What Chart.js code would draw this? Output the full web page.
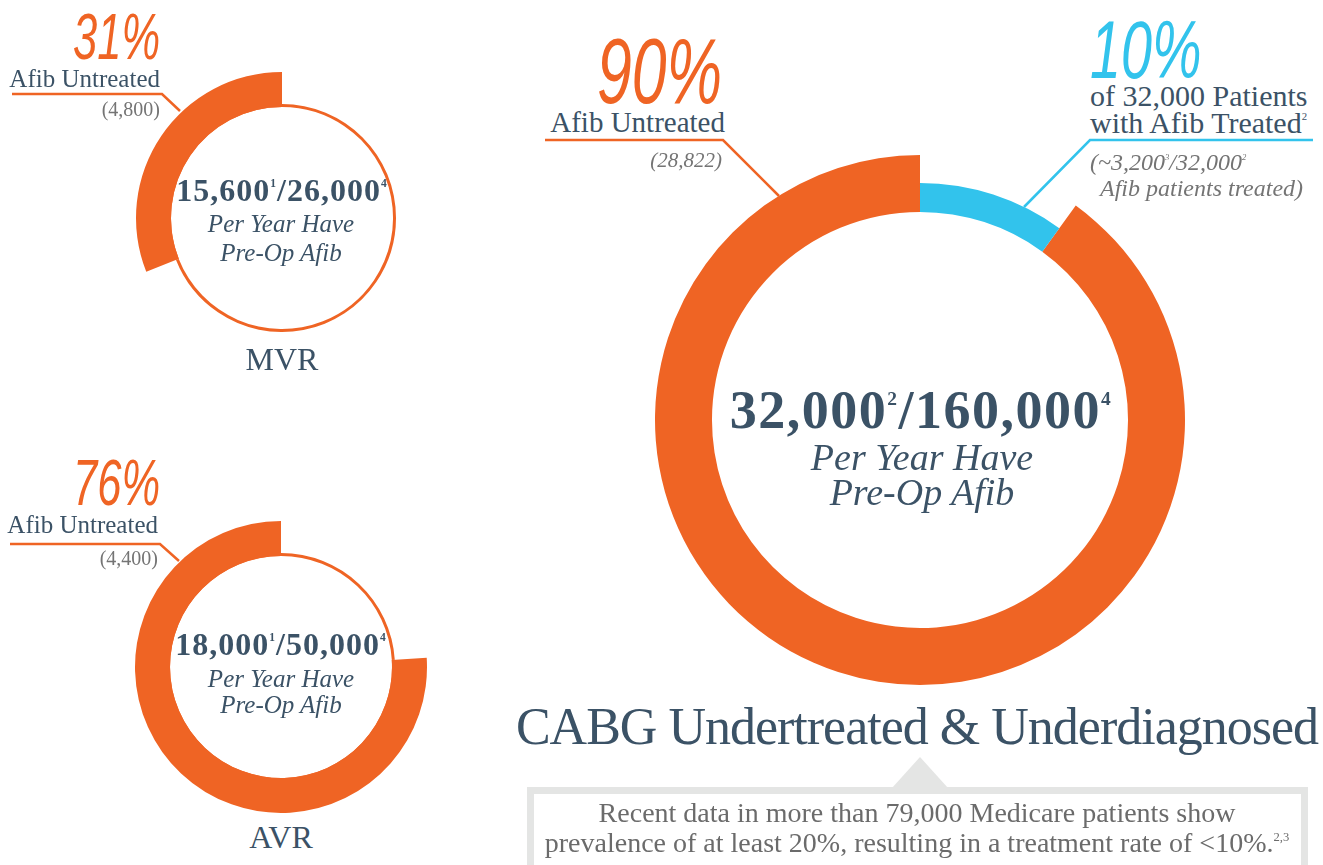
<!DOCTYPE html>
<html><head><meta charset="utf-8">
<script src="https://cdn.jsdelivr.net/npm/chart.js@4.4.1/dist/chart.umd.min.js"></script>
<style>
html,body{margin:0;padding:0;background:#fff;width:1323px;height:865px;overflow:hidden;}
body{position:relative;font-family:"Liberation Serif",serif;color:#3b5266;}
.t{position:absolute;line-height:1;white-space:nowrap;}
.c{text-align:center;width:1000px;}
.r{text-align:right;}
.pct{font-family:"Liberation Sans",sans-serif;font-style:italic;font-weight:400;color:#ef6424;transform:scaleX(0.68);}
.pr{transform-origin:right top;}
.pl{transform-origin:left top;}
.num{font-weight:700;}
.it{font-style:italic;}
.gray{color:#747474;}
.sup{font-size:0.36em;position:relative;top:-1.2em;}
canvas{position:absolute;}
</style></head><body>
<svg width="1323" height="865" style="position:absolute;left:0;top:0">
  <polyline points="12,94 162,94 180,111" stroke="#ef6424" stroke-width="2.5" fill="none"/>
  <polyline points="10,544 160,544 179,561" stroke="#ef6424" stroke-width="2.5" fill="none"/>
  <polyline points="545,140 723,140 779,196" stroke="#ef6424" stroke-width="2.5" fill="none"/>
  <polyline points="1313,140 1090,140 1024,207" stroke="#32c3ec" stroke-width="2.5" fill="none"/>
  <rect x="530.5" y="790.5" width="774" height="100" fill="#fff" stroke="#e4e5e4" stroke-width="7"/>
  <polygon points="920,757 892,788 948,788" fill="#e4e5e4"/>
</svg>
<canvas id="mvrThin" width="300" height="300" style="left:132px;top:68px;width:300px;height:300px"></canvas>
<canvas id="mvrThick" width="300" height="300" style="left:132px;top:68px;width:300px;height:300px"></canvas>
<canvas id="avrThin" width="300" height="300" style="left:131px;top:517px;width:300px;height:300px"></canvas>
<canvas id="avrThick" width="300" height="300" style="left:131px;top:517px;width:300px;height:300px"></canvas>
<canvas id="cabgOrange" width="540" height="540" style="left:650px;top:150px;width:540px;height:540px"></canvas>
<canvas id="cabgBlue" width="540" height="540" style="left:650px;top:150px;width:540px;height:540px"></canvas>

<!-- MVR -->
<div class="t pct pr r" style="right:1163px;top:5px;font-size:64px;">31%</div>
<div class="t r" style="right:1163px;top:66px;font-size:25px;">Afib Untreated</div>
<div class="t r gray" style="right:1163px;top:99px;font-size:20px;">(4,800)</div>
<div class="t c num" style="left:-218px;top:174px;font-size:32px;letter-spacing:1px;">15,600<span class="sup">1</span>/26,000<span class="sup">4</span></div>
<div class="t c it" style="left:-219px;top:211px;font-size:25px;">Per Year Have</div>
<div class="t c it" style="left:-219px;top:240px;font-size:25px;">Pre-Op Afib</div>
<div class="t c" style="left:-218px;top:343px;font-size:32px;">MVR</div>

<!-- AVR -->
<div class="t pct pr r" style="right:1163px;top:451px;font-size:64px;">76%</div>
<div class="t r" style="right:1165px;top:512px;font-size:25px;">Afib Untreated</div>
<div class="t r gray" style="right:1165px;top:548px;font-size:20px;">(4,400)</div>
<div class="t c num" style="left:-219px;top:628px;font-size:32px;letter-spacing:1px;">18,000<span class="sup">1</span>/50,000<span class="sup">4</span></div>
<div class="t c it" style="left:-219px;top:666px;font-size:25px;">Per Year Have</div>
<div class="t c it" style="left:-219px;top:692px;font-size:25px;">Pre-Op Afib</div>
<div class="t c" style="left:-219px;top:821px;font-size:32px;">AVR</div>

<!-- CABG -->
<div class="t pct pr r" style="right:601px;top:25px;font-size:92px;">90%</div>
<div class="t r" style="right:598px;top:108px;font-size:29px;">Afib Untreated</div>
<div class="t r gray it" style="right:601px;top:150px;font-size:21px;">(28,822)</div>
<div class="t pct pl" style="left:1090px;top:9px;font-size:82px;color:#32c3ec;">10%</div>
<div class="t" style="left:1090px;top:81px;font-size:30px;">of 32,000 Patients</div>
<div class="t" style="left:1090px;top:108px;font-size:30px;">with Afib Treated<span class="sup">2</span></div>
<div class="t gray it" style="left:1090px;top:150px;font-size:24px;">(~3,200<span class="sup">3</span>/32,000<span class="sup">2</span></div>
<div class="t gray it" style="left:1100px;top:176px;font-size:24px;">Afib patients treated)</div>
<div class="t c num" style="left:421px;top:383px;font-size:54px;letter-spacing:1.5px;">32,000<span class="sup">2</span>/160,000<span class="sup">4</span></div>
<div class="t c it" style="left:422px;top:438px;font-size:38px;">Per Year Have</div>
<div class="t c it" style="left:422px;top:473px;font-size:38px;">Pre-Op Afib</div>
<div class="t c" style="left:417px;top:701px;font-size:52px;letter-spacing:-1px;">CABG Undertreated &amp; Underdiagnosed</div>
<div class="t c" style="left:417px;top:799px;font-size:28px;color:#6b6b6b;">Recent data in more than 79,000 Medicare patients show</div>
<div class="t c" style="left:417px;top:829px;font-size:28px;color:#6b6b6b;">prevalence of at least 20%, resulting in a treatment rate of &lt;10%.<span class="sup" style="font-size:0.45em;top:-0.9em">2,3</span></div>

<script>
// Share of pre-op Afib patients: [treated, untreated] in percent
const sliceLabels = ['Afib Treated', 'Afib Untreated'];
const mvrShares = [69, 31];
const avrShares = [24, 76];
const cabgShares = [10, 90];

const ORANGE = '#ef6424', BLUE = '#32c3ec', NONE = 'rgba(0,0,0,0)';

function drawArc(id, shares, colors, radius, cutout) {
  new Chart(document.getElementById(id), {
    type: 'doughnut',
    data: {
      labels: sliceLabels,
      datasets: [{ data: shares, backgroundColor: colors, borderWidth: 0 }]
    },
    options: {
      responsive: false, animation: false, events: [],
      cutout: cutout, radius: radius, rotation: 0, circumference: 360,
      layout: { padding: 0 },
      plugins: { legend: { display: false }, tooltip: { enabled: false } }
    }
  });
}

// thin full ring + thick "untreated" arc
drawArc('mvrThin', mvrShares, [ORANGE, ORANGE], 114, '97.4%');
drawArc('mvrThick', mvrShares, [NONE, ORANGE], 146, '76%');
drawArc('avrThin', avrShares, [ORANGE, ORANGE], 114, '97.4%');
drawArc('avrThick', avrShares, [NONE, ORANGE], 146, '76%');
// CABG: wide orange "untreated" arc + narrower blue "treated" arc
drawArc('cabgOrange', cabgShares, [NONE, ORANGE], 265, '78.5%');
drawArc('cabgBlue', cabgShares, [BLUE, NONE], 237, '87.8%');
</script>
</body></html>
